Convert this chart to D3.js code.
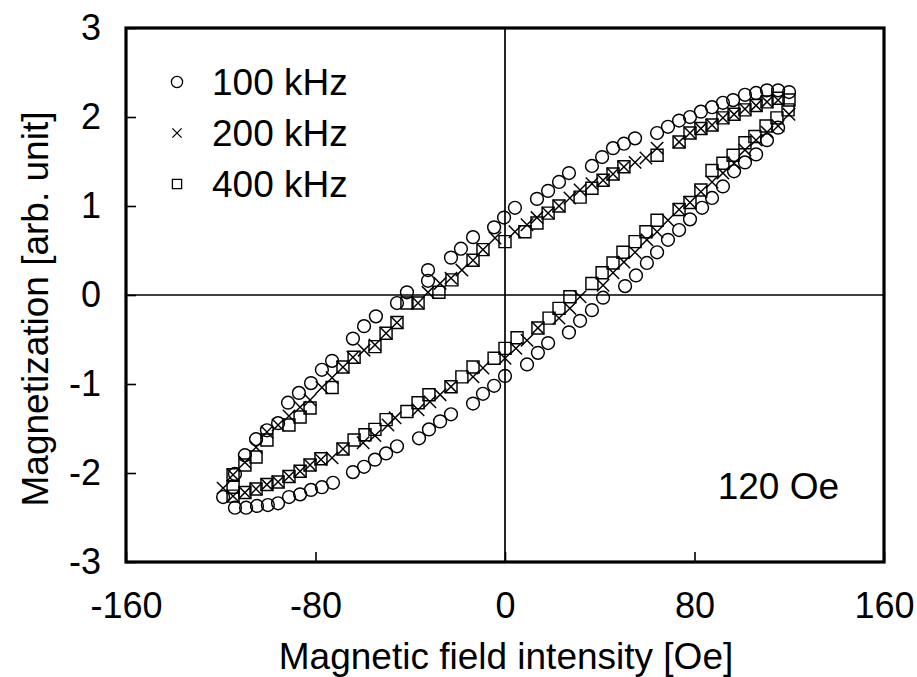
<!DOCTYPE html>
<html>
<head>
<meta charset="utf-8">
<script src="https://cdn.jsdelivr.net/npm/d3@7"></script>
<style>
  html, body { margin: 0; padding: 0; background: #fff; }
  svg { display: block; }
  text { font-family: "Liberation Sans", Arial, sans-serif; fill: #000; }
</style>
</head>
<body>
<svg id="chart" width="917" height="677"></svg>
<script>
// Hysteresis loops at a field amplitude of 120 Oe, one per drive frequency.
// Each loop runs from the positive tip along the upper branch to the
// negative tip, then back along the lower branch.

// 100 kHz
const field100 = [119.9, 115.3, 110.6, 106.0, 101.3, 96.3, 92.0, 87.4, 82.7, 78.1, 73.5, 68.8, 64.2, 54.9, 50.2, 45.6, 41.0, 36.7, 27.0, 22.8, 18.2, 13.5, 4.2, -0.4, -4.6, -13.5, -18.6, -22.8, -32.5, -32.5, -41.4, -45.6, -54.5, -59.5, -64.2, -73.0, -77.3, -81.9, -87.0, -91.6, -95.8, -100.5, -105.1, -109.8, -114.0, -119.0,
  -114.0, -109.3, -104.7, -100.1, -95.8, -91.2, -86.5, -81.9, -77.3, -72.6, -64.2, -59.5, -54.9, -50.2, -45.6, -36.3, -32.1, -27.4, -22.8, -13.5, -9.3, -4.6, 0.0, 9.3, 13.9, 18.2, 27.0, 31.7, 36.7, 41.4, 50.7, 55.3, 59.9, 64.2, 68.8, 73.5, 78.1, 83.2, 87.4, 92.0, 96.7, 101.3, 106.0, 110.6, 115.3];
const mag100 = [2.28, 2.30, 2.30, 2.27, 2.25, 2.19, 2.16, 2.11, 2.06, 2.00, 1.96, 1.89, 1.82, 1.76, 1.70, 1.65, 1.55, 1.45, 1.37, 1.27, 1.17, 1.08, 0.98, 0.87, 0.76, 0.65, 0.52, 0.42, 0.28, 0.16, 0.03, -0.09, -0.24, -0.35, -0.49, -0.74, -0.84, -0.99, -1.10, -1.21, -1.44, -1.52, -1.62, -1.80, -2.01, -2.27,
  -2.39, -2.39, -2.37, -2.36, -2.34, -2.27, -2.24, -2.19, -2.16, -2.11, -1.99, -1.93, -1.85, -1.78, -1.70, -1.61, -1.51, -1.42, -1.34, -1.22, -1.11, -1.02, -0.91, -0.78, -0.65, -0.54, -0.42, -0.29, -0.17, -0.03, 0.10, 0.22, 0.36, 0.48, 0.62, 0.73, 0.85, 0.98, 1.09, 1.22, 1.39, 1.49, 1.58, 1.74, 1.88];

// 200 kHz
const field200 = [119.9, 115.3, 110.6, 106.0, 101.3, 96.7, 92.0, 87.4, 82.7, 78.1, 73.5, 64.2, 59.5, 54.9, 50.2, 45.6, 41.4, 36.7, 31.7, 27.4, 22.8, 18.2, 13.5, 9.3, 4.2, -4.2, -9.3, -13.5, -18.2, -22.8, -27.4, -32.5, -36.7, -45.6, -50.2, -54.9, -59.5, -64.2, -68.4, -73.0, -77.3, -82.3, -86.5, -91.2, -95.8, -100.5, -105.1, -109.8, -114.8, -119.0,
  -114.8, -109.8, -105.1, -100.5, -95.8, -91.2, -86.5, -82.3, -77.7, -73.0, -68.4, -59.9, -54.9, -49.4, -46.4, -36.7, -31.7, -27.4, -22.8, -13.5, -9.3, 0.0, 4.6, 9.3, 13.9, 22.8, 27.4, 31.7, 41.4, 45.6, 50.2, 54.9, 59.9, 64.2, 68.8, 73.5, 78.1, 82.7, 87.4, 92.0, 96.7, 101.3, 106.0, 110.6, 115.3];
const mag200 = [2.03, 2.19, 2.17, 2.13, 2.09, 2.03, 1.99, 1.91, 1.87, 1.82, 1.72, 1.65, 1.54, 1.49, 1.44, 1.36, 1.29, 1.25, 1.18, 1.09, 1.00, 0.92, 0.87, 0.79, 0.71, 0.64, 0.51, 0.39, 0.28, 0.19, 0.13, 0.03, -0.09, -0.31, -0.43, -0.56, -0.62, -0.70, -0.81, -0.93, -1.04, -1.18, -1.26, -1.36, -1.46, -1.54, -1.71, -1.88, -2.02, -2.17,
  -2.26, -2.22, -2.18, -2.13, -2.10, -2.04, -1.98, -1.91, -1.85, -1.83, -1.73, -1.66, -1.58, -1.46, -1.38, -1.29, -1.20, -1.12, -1.03, -0.92, -0.82, -0.71, -0.60, -0.51, -0.37, -0.26, -0.15, -0.02, 0.11, 0.25, 0.37, 0.48, 0.62, 0.71, 0.84, 0.96, 1.04, 1.16, 1.27, 1.37, 1.48, 1.63, 1.74, 1.83, 1.90];

// 400 kHz
const field400 = [119.9, 115.3, 110.6, 106.0, 101.3, 96.7, 92.0, 87.4, 82.7, 78.1, 73.5, 64.2, 50.2, 45.6, 41.4, 36.7, 31.7, 22.8, 18.2, 13.5, 8.4, 0.0, -9.3, -13.5, -22.4, -27.9, -36.7, -41.4, -45.6, -50.2, -54.9, -63.7, -68.4, -73.0, -82.3, -86.5, -91.2, -100.5, -105.1, -109.8, -114.8, -114.8,
  -114.8, -109.8, -105.1, -100.5, -95.8, -91.2, -86.5, -82.3, -77.7, -68.4, -63.7, -59.1, -54.9, -50.2, -41.4, -36.7, -32.1, -22.8, -18.2, -13.5, -4.6, 0.0, 5.1, 13.9, 18.6, 22.8, 27.4, 36.7, 41.0, 45.6, 49.8, 54.9, 59.5, 64.2, 73.5, 78.1, 82.7, 87.4, 92.0, 96.3, 101.3, 105.5, 110.2, 114.8, 119.5];
const mag400 = [2.19, 2.21, 2.17, 2.13, 2.08, 2.03, 1.99, 1.91, 1.87, 1.82, 1.72, 1.57, 1.44, 1.36, 1.29, 1.20, 1.10, 1.00, 0.92, 0.81, 0.71, 0.60, 0.51, 0.39, 0.17, 0.03, -0.09, -0.09, -0.31, -0.43, -0.58, -0.70, -0.81, -1.04, -1.27, -1.37, -1.46, -1.63, -1.82, -1.91, -2.02, -2.16,
  -2.26, -2.22, -2.18, -2.13, -2.10, -2.04, -1.98, -1.91, -1.84, -1.73, -1.63, -1.57, -1.51, -1.40, -1.31, -1.21, -1.12, -1.03, -0.92, -0.81, -0.71, -0.60, -0.48, -0.37, -0.26, -0.15, -0.02, 0.13, 0.25, 0.36, 0.48, 0.60, 0.71, 0.84, 0.96, 1.04, 1.18, 1.40, 1.48, 1.57, 1.71, 1.78, 1.90, 1.99, 2.08];

const seriesNames = ["100 kHz", "200 kHz", "400 kHz"];
const seriesShapes = ["circle", "cross", "square"];
const xTicks = [-160, -80, 0, 80, 160];
const yTicks = [-3, -2, -1, 0, 1, 2, 3];
const xTitle = "Magnetic field intensity [Oe]";
const yTitle = "Magnetization [arb. unit]";
const amplitudeLabel = "120 Oe";

const series = [
  { name: seriesNames[0], shape: seriesShapes[0], pts: field100.map((f, i) => [f, mag100[i]]) },
  { name: seriesNames[1], shape: seriesShapes[1], pts: field200.map((f, i) => [f, mag200[i]]) },
  { name: seriesNames[2], shape: seriesShapes[2], pts: field400.map((f, i) => [f, mag400[i]]) }
];

const svg = d3.select("#chart");
const plot = { left: 126, right: 884, top: 28, bottom: 562 };
const tickFont = 36;
const labelFont = 37;

const x = d3.scaleLinear().domain([-160, 160]).range([plot.left, plot.right]);
const y = d3.scaleLinear().domain([-3, 3]).range([plot.bottom, plot.top]);

// Marker outlines, centred on the origin
function markerPath(shape, s) {
  const p = d3.path();
  if (shape === "circle") {
    p.moveTo(s, 0);
    p.arc(0, 0, s, 0, 2 * Math.PI);
  } else if (shape === "square") {
    p.rect(-s, -s, 2 * s, 2 * s);
  } else {
    p.moveTo(-s, -s); p.lineTo(s, s);
    p.moveTo(-s, s); p.lineTo(s, -s);
  }
  return p.toString();
}
const markerSize = { circle: 6.4, square: 6, cross: 6.2 };

// Axes with inward ticks
const xAxis = d3.axisBottom(x).tickValues(xTicks).tickSize(-10).tickPadding(30);
const yAxis = d3.axisLeft(y).tickValues(yTicks).tickSize(-10).tickPadding(25);

const gx = svg.append("g").attr("transform", `translate(0,${plot.bottom})`).call(xAxis);
const gy = svg.append("g").attr("transform", `translate(${plot.left},0)`).call(yAxis);
[gx, gy].forEach(g => {
  g.select(".domain").remove();
  g.selectAll(".tick line").attr("stroke", "#000").attr("stroke-width", 1.6);
  g.selectAll(".tick text")
    .style("font-size", tickFont + "px")
    .style("font-family", "'Liberation Sans', Arial, sans-serif")
    .attr("fill", "#000")
    .text(d => d < 0 ? "-" + Math.abs(d) : String(d));
});

// Zero lines
svg.append("line")
  .attr("x1", x(-160)).attr("x2", x(160)).attr("y1", y(0)).attr("y2", y(0))
  .attr("stroke", "#000").attr("stroke-width", 1.7);
svg.append("line")
  .attr("x1", x(0)).attr("x2", x(0)).attr("y1", y(-3)).attr("y2", y(3))
  .attr("stroke", "#000").attr("stroke-width", 1.7);

// Data markers
series.forEach(s => {
  svg.append("g").selectAll("path")
    .data(s.pts)
    .join("path")
    .attr("transform", d => `translate(${x(d[0])},${y(d[1])})`)
    .attr("d", markerPath(s.shape, markerSize[s.shape]))
    .attr("fill", "none")
    .attr("stroke", "#000")
    .attr("stroke-width", 1.45);
});

// Frame
svg.append("rect")
  .attr("x", plot.left).attr("y", plot.top)
  .attr("width", plot.right - plot.left).attr("height", plot.bottom - plot.top)
  .attr("fill", "none").attr("stroke", "#000").attr("stroke-width", 3.2);

// Legend
const legend = svg.append("g").attr("transform", "translate(177,82)");
series.forEach((s, i) => {
  const row = legend.append("g").attr("transform", `translate(0,${i * 51})`);
  row.append("path")
    .attr("d", markerPath(s.shape, s.shape === "circle" ? 5.6 : 4.6))
    .attr("fill", "none").attr("stroke", "#000").attr("stroke-width", 1.3);
  row.append("text")
    .attr("x", 35).attr("y", 0).attr("dy", "0.36em")
    .style("font-size", labelFont + "px")
    .text(s.name);
});

// Amplitude label
svg.append("text")
  .attr("x", 839).attr("y", 499)
  .attr("text-anchor", "end")
  .style("font-size", labelFont + "px")
  .text(amplitudeLabel);

// Axis titles
svg.append("text")
  .attr("x", (plot.left + plot.right) / 2 + 1).attr("y", 669)
  .attr("text-anchor", "middle")
  .style("font-size", labelFont + "px")
  .text(xTitle);
svg.append("text")
  .attr("transform", `translate(48,${(plot.top + plot.bottom) / 2 + 14}) rotate(-90)`)
  .attr("text-anchor", "middle")
  .style("font-size", labelFont + "px")
  .text(yTitle);
</script>
</body>
</html>
